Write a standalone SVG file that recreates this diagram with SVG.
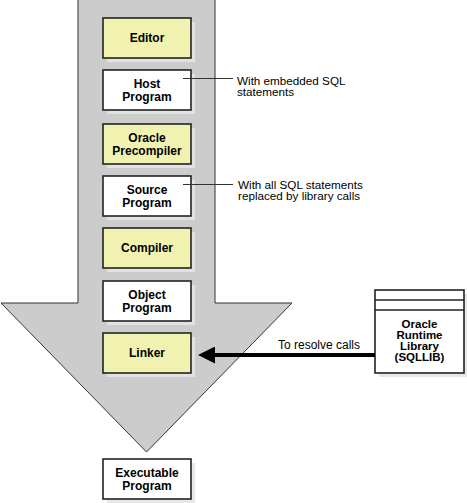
<svg xmlns="http://www.w3.org/2000/svg" width="467" height="503" viewBox="0 0 467 503">
<style>
text{font-family:"Liberation Sans",Arial,Helvetica,sans-serif;font-size:12px;fill:#000}
.lbl{font-weight:bold;text-anchor:middle}
.lib{font-size:11.5px}
.note{font-size:11.7px}
.box{stroke:#222;stroke-width:1.6}
.y{fill:#f2f2b0}
.w{fill:#fff}
.sh{fill:#e2e2e2}
.lead{stroke:#333;stroke-width:1;fill:none}
</style>
<defs>
<marker id="ah" markerUnits="userSpaceOnUse" markerWidth="17" markerHeight="17" viewBox="0 0 17 17" refX="5" refY="8.5" orient="auto">
<path d="M0,0 L17,8.5 L0,17 z" fill="#000"/>
</marker>
</defs>
<g id="flow-arrow">
<polygon points="78,-2 215,-2 215,303 292,303 146.5,452 1,303 78,303" fill="#cccccc" stroke="#333" stroke-width="1"/>
</g>
<g id="editor">
<rect class="sh" x="107" y="22" width="88" height="40"/>
<rect class="box y" x="103" y="18" width="88" height="40"/>
<text class="lbl" x="147" y="42">Editor</text>
</g>
<g id="host-program">
<rect class="sh" x="107" y="74" width="88" height="40"/>
<rect class="box w" x="103" y="70" width="88" height="40"/>
<text class="lbl" x="147" y="87.5">Host<tspan x="147" dy="13">Program</tspan></text>
</g>
<g id="oracle-precompiler">
<rect class="sh" x="107" y="128" width="88" height="40"/>
<rect class="box y" x="103" y="124" width="88" height="40"/>
<text class="lbl" x="147" y="141.5">Oracle<tspan x="147" dy="13">Precompiler</tspan></text>
</g>
<g id="source-program">
<rect class="sh" x="107" y="180" width="88" height="40"/>
<rect class="box w" x="103" y="176" width="88" height="40"/>
<text class="lbl" x="147" y="193.5">Source<tspan x="147" dy="13">Program</tspan></text>
</g>
<g id="compiler">
<rect class="sh" x="107" y="232" width="88" height="40"/>
<rect class="box y" x="103" y="228" width="88" height="40"/>
<text class="lbl" x="147" y="252">Compiler</text>
</g>
<g id="object-program">
<rect class="sh" x="107" y="285" width="88" height="40"/>
<rect class="box w" x="103" y="281" width="88" height="40"/>
<text class="lbl" x="147" y="298.5">Object<tspan x="147" dy="13">Program</tspan></text>
</g>
<g id="linker">
<rect class="sh" x="107" y="337" width="88" height="40"/>
<rect class="box y" x="103" y="333" width="88" height="40"/>
<text class="lbl" x="147" y="357">Linker</text>
</g>
<g id="executable-program">
<rect x="107" y="463" width="88" height="40" fill="#e8e8e8"/>
<rect class="box w" x="103" y="459" width="88" height="40"/>
<text class="lbl" x="147" y="476.5">Executable<tspan x="147" dy="13">Program</tspan></text>
</g>
<g id="sqllib">
<rect x="379" y="294" width="88" height="83" fill="#e8e8e8"/>
<rect class="box w" x="375" y="290" width="89" height="83"/>
<line x1="375" y1="300" x2="464" y2="300" stroke="#222" stroke-width="1.4"/>
<line x1="375" y1="310" x2="464" y2="310" stroke="#222" stroke-width="1.6"/>
<text class="lbl lib" x="419.5" y="327.5">Oracle<tspan x="419.5" dy="11">Runtime</tspan><tspan x="419.5" dy="11">Library</tspan><tspan x="419.5" dy="11">(SQLLIB)</tspan></text>
</g>
<g id="connectors">
<line class="lead" x1="183" y1="78.5" x2="233" y2="78.5"/>
<text class="note" x="237" y="84.5">With embedded SQL<tspan x="237" dy="11.5">statements</tspan></text>
<line class="lead" x1="183" y1="184.5" x2="233" y2="184.5"/>
<text class="note" x="238" y="188.5">With all SQL statements<tspan x="238" dy="11.5">replaced by library calls</tspan></text>
<line x1="375" y1="355" x2="210" y2="355" stroke="#000" stroke-width="4" marker-end="url(#ah)"/>
<text x="278" y="349">To resolve calls</text>
</g>
</svg>
